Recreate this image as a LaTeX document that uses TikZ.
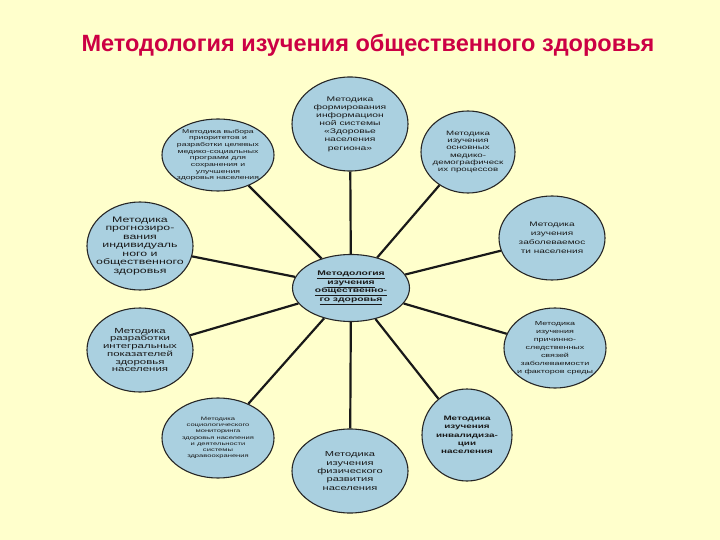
\documentclass[tikz,border=0pt]{standalone}
\usepackage{fontspec}
\setmainfont{Liberation Sans}
\newfontfamily\nf[FakeStretch=1.55]{Liberation Sans}
\usetikzlibrary{shapes.geometric}
\definecolor{bg}{RGB}{255,255,204}
\definecolor{ellfill}{RGB}{170,208,224}
\definecolor{titlecol}{RGB}{204,0,68}
\tikzset{
  ell/.style={ellipse, draw=black!85, line width=1.1pt, fill=ellfill, inner sep=0pt},
  txt/.style={align=center, text=black!90, inner sep=0pt},
  spoke/.style={line width=2.2pt, draw=black!90},
  fs/.style n args={2}{font=\nf\fontsize{#1}{#2}\selectfont},
  fsb/.style n args={2}{font=\nf\bfseries\fontsize{#1}{#2}\selectfont}
}
\begin{document}
\begin{tikzpicture}[x=1bp,y=-1bp]
\fill[bg] (0,0) rectangle (720,540);
\useasboundingbox (0,0) rectangle (720,540);
\node[font=\bfseries\fontsize{23.6}{26}\selectfont, text=titlecol, anchor=west] (title) at (78,45) {Методология изучения общественного здоровья};

\node[ell, minimum width=117bp, minimum height=67bp] (c) at (351,288) {};
\node[ell, minimum width=116bp, minimum height=94bp] (n1) at (350,124) {};
\node[ell, minimum width=112bp, minimum height=72bp] (n2) at (218,155) {};
\node[ell, minimum width=94bp, minimum height=82bp] (n3) at (468,152) {};
\node[ell, minimum width=106bp, minimum height=88bp] (n4) at (140,246) {};
\node[ell, minimum width=106bp, minimum height=84bp] (n5) at (552,238) {};
\node[ell, minimum width=106bp, minimum height=84bp] (n7) at (140,350) {};
\node[ell, minimum width=102bp, minimum height=80bp] (n8) at (555,348) {};
\node[ell, minimum width=112bp, minimum height=80bp] (n9) at (218,438) {};
\node[ell, minimum width=90bp, minimum height=92bp] (n10) at (467,435) {};
\node[ell, minimum width=116bp, minimum height=84bp] (n11) at (350,471) {};

\foreach \n in {n1,n2,n3,n4,n5,n7,n8,n9,n10,n11}
  \draw[spoke] (c) -- (\n);

\node[txt, fsb={6.7}{8.6}] at (c) {\underline{Методология}\\\underline{изучения}\\\underline{общественно-}\\\underline{го здоровья}};
\node[txt, fs={6.7}{8.2}] at (n1) {Методика\\формирования\\информацион\\ной системы\\«Здоровье\\населения\\региона»};
\node[txt, fs={5.6}{6.7}] at (n2) {Методика выбора\\приоритетов и\\разработки целевых\\медико-социальных\\программ для\\сохранения и\\улучшения\\здоровья населения};
\node[txt, fs={6.3}{7.4}] at (n3) {Методика\\изучения\\основных\\медико-\\демографическ\\их процессов};
\node[txt, fs={8}{8.5}] at (n4) {Методика\\прогнозиро-\\вания\\индивидуаль\\ного и\\общественного\\здоровья};
\node[txt, fs={6.5}{9}] at (n5) {Методика\\изучения\\заболеваемос\\ти населения};
\node[txt, fs={7.4}{7.8}] at (n7) {Методика\\разработки\\интегральных\\показателей\\здоровья\\населения};
\node[txt, fs={5.8}{8}] at (n8) {Методика\\изучения\\причинно-\\следственных\\связей\\заболеваемости\\и факторов среды};
\node[txt, fs={4.9}{6.2}] at (n9) {Методика\\социологического\\мониторинга\\здоровья населения\\и деятельности\\системы\\здравоохранения};
\node[txt, fsb={6.4}{8.4}] at (n10) {Методика\\изучения\\инвалидиза-\\ции\\населения};
\node[txt, fs={7.2}{8.4}] at (n11) {Методика\\изучения\\физического\\развития\\населения};
\end{tikzpicture}
\end{document}
